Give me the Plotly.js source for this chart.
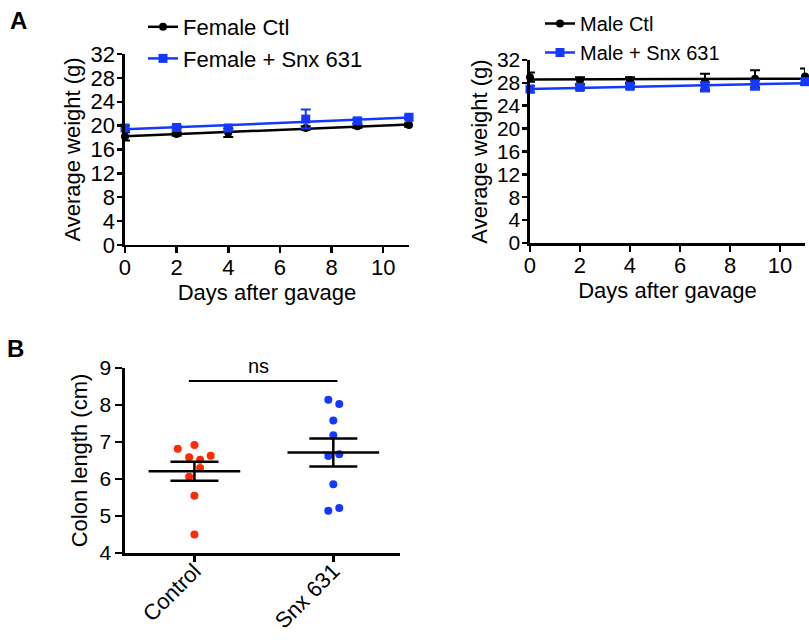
<!DOCTYPE html>
<html>
<head>
<meta charset="utf-8">
<script src="https://cdn.plot.ly/plotly-3.0.1.min.js"></script>
<style>html,body{margin:0;padding:0;background:#fff;}#chart{width:809px;height:640px;}</style>
</head>
<body>
<div id="chart"></div>
<script>
// ---------- DATA ----------
const days = [0, 2, 4, 7, 9, 11];
const femaleCtl = [18.2, 18.6, 18.8, 19.6, 19.9, 20.1];
const femaleCtlErr = [0.7, 0.3, 0.7, 0.3, 0.3, 0.3];
const femaleSnx = [19.6, 19.7, 19.6, 21.1, 20.8, 21.4];
const femaleSnxErr = [0.4, 0.3, 0.5, 1.6, 0.4, 0.3];
const maleCtl = [29.0, 28.4, 28.5, 28.2, 28.7, 29.1];
const maleCtlErr = [0.8, 0.6, 0.5, 1.4, 1.5, 1.4];
const maleSnx = [26.9, 27.2, 27.4, 27.3, 27.6, 28.2];
const maleSnxErr = [0.6, 0.4, 0.4, 0.8, 0.8, 0.5];

const groups = ['Control', 'Snx 631'];
const colonControl = [6.82, 6.92, 6.59, 6.52, 6.63, 6.30, 6.06, 5.55, 4.50];
const colonSnx = [8.14, 8.03, 7.58, 7.18, 6.62, 6.67, 5.86, 5.14, 5.22];
const sigLabel = 'ns';
const sigLevel = 8.65;

// ---------- LAYOUT HELPERS (positions / styles) ----------
const jitterControl = [-0.12, 0, -0.038, 0.041, 0.117, 0.041, -0.038, 0, 0];
const jitterSnx = [-0.036, 0.043, 0, 0, -0.036, 0.043, 0, -0.036, 0.043];
const meanHalf = 0.33;

const BLACK = '#000000';
const BLUE = '#1438ff';
const RED = '#ff2a00';
const FONT = 'Liberation Sans, Arial, Helvetica, sans-serif';

function fit(xs, ys) {
  const n = xs.length;
  const mx = xs.reduce((a, b) => a + b, 0) / n;
  const my = ys.reduce((a, b) => a + b, 0) / n;
  let sxy = 0, sxx = 0;
  for (let i = 0; i < n; i++) { sxy += (xs[i] - mx) * (ys[i] - my); sxx += (xs[i] - mx) ** 2; }
  const b = sxy / sxx, a = my - b * mx;
  const x0 = Math.min(...xs), x1 = Math.max(...xs);
  return { x: [x0, x1], y: [a + b * x0, a + b * x1] };
}
function meanSem(v) {
  const n = v.length;
  const m = v.reduce((a, b) => a + b, 0) / n;
  const sd = Math.sqrt(v.reduce((a, b) => a + (b - m) ** 2, 0) / (n - 1));
  return { m: m, sem: sd / Math.sqrt(n) };
}

const traces = [];
function addSeries(y, err, color, symbol, size, name, xa, ya, legend) {
  const f = fit(days, y);
  traces.push({ x: f.x, y: f.y, xaxis: xa, yaxis: ya, mode: 'lines', line: { color: color, width: 2.5 }, showlegend: false, hoverinfo: 'skip' });
  traces.push({ x: days, y: y, xaxis: xa, yaxis: ya, mode: 'markers', cliponaxis: false,
    marker: { color: color, symbol: symbol, size: size },
    error_y: { type: 'data', array: err, visible: true, color: color, thickness: 2, width: 5 },
    showlegend: false });
  traces.push({ x: [null], y: [null], xaxis: xa, yaxis: ya, mode: 'lines+markers', name: name, legend: legend,
    line: { color: color, width: 2.5 }, marker: { color: color, symbol: symbol, size: size } });
}
addSeries(femaleCtl, femaleCtlErr, BLACK, 'circle', 8, 'Female Ctl', 'x', 'y', 'legend');
addSeries(femaleSnx, femaleSnxErr, BLUE, 'square', 9, 'Female + Snx 631', 'x', 'y', 'legend');
addSeries(maleCtl, maleCtlErr, BLACK, 'circle', 8, 'Male Ctl', 'x2', 'y2', 'legend2');
addSeries(maleSnx, maleSnxErr, BLUE, 'square', 9, 'Male + Snx 631', 'x2', 'y2', 'legend2');

// Panel B
const colonSets = [colonControl, colonSnx];
const jit = [jitterControl, jitterSnx];
const dotColors = [RED, BLUE];
colonSets.forEach((vals, gi) => {
  traces.push({ x: vals.map((v, i) => gi + jit[gi][i]), y: vals, xaxis: 'x3', yaxis: 'y3', mode: 'markers',
    marker: { color: dotColors[gi], size: 8 }, showlegend: false, cliponaxis: false });
  const s = meanSem(vals);
  traces.push({ x: [gi - meanHalf, gi + meanHalf], y: [s.m, s.m], xaxis: 'x3', yaxis: 'y3', mode: 'lines',
    line: { color: BLACK, width: 2.5 }, showlegend: false });
  traces.push({ x: [gi], y: [s.m], xaxis: 'x3', yaxis: 'y3', mode: 'markers', marker: { size: 1, color: 'rgba(0,0,0,0)' },
    error_y: { type: 'data', array: [s.sem], visible: true, color: BLACK, thickness: 2.5, width: 24 }, showlegend: false });
});

function axisBase(extra) {
  return Object.assign({
    showline: true, linecolor: BLACK, linewidth: 2.5, ticks: 'outside', ticklen: 6, tickwidth: 2.5, tickcolor: BLACK,
    showgrid: false, zeroline: false, tickfont: { family: FONT, size: 22, color: BLACK }, automargin: false, fixedrange: true
  }, extra);
}
const titleFont = { family: FONT, size: 22, color: BLACK };

const layout = {
  width: 809, height: 640,
  margin: { l: 0, r: 0, t: 0, b: 0 },
  paper_bgcolor: '#fff', plot_bgcolor: 'rgba(0,0,0,0)',
  font: { family: FONT, color: BLACK },
  xaxis: axisBase({ domain: [0.1545, 0.5056], range: [0, 11], dtick: 2, tick0: 0, anchor: 'y', ticklabelstandoff: -5,
    title: { text: 'Days after gavage', font: titleFont, standoff: 6 } }),
  yaxis: axisBase({ domain: [0.6172, 0.9156], range: [0, 32], dtick: 4, tick0: 0, anchor: 'x', ticklen: 5, ticklabelstandoff: -2,
    tickfont: { family: FONT, size: 22, color: BLACK }, title: { text: 'Average weight (g)', font: titleFont, standoff: 4 } }),
  xaxis2: axisBase({ domain: [0.6551, 0.9951], range: [0, 11], dtick: 2, tick0: 0, anchor: 'y2', ticklabelstandoff: -5,
    title: { text: 'Days after gavage', font: titleFont, standoff: 6 } }),
  yaxis2: axisBase({ domain: [0.6203, 0.9063], range: [0, 32], dtick: 4, tick0: 0, anchor: 'x2', ticklen: 5, ticklabelstandoff: -2,
    tickfont: { family: FONT, size: 21, color: BLACK }, title: { text: 'Average weight (g)', font: titleFont, standoff: 3 } }),
  xaxis3: axisBase({ domain: [0.1545, 0.4944], range: [-0.5, 1.48], tickmode: 'array', tickvals: [0, 1], ticktext: groups,
    tickangle: -45, anchor: 'y3', ticklabelstandoff: -12 }),
  yaxis3: axisBase({ domain: [0.1359, 0.425], range: [4, 9], dtick: 1, tick0: 4, anchor: 'x3', ticklen: 7,
    tickfont: { family: FONT, size: 21, color: BLACK },
    title: { text: 'Colon length (cm)', font: titleFont, standoff: 6 } }),
  legend: { x: 143 / 809, y: 1 - 6 / 640, xanchor: 'left', yanchor: 'top', bgcolor: 'rgba(0,0,0,0)',
    font: { family: FONT, size: 22, color: BLACK }, tracegroupgap: 0 },
  legend2: { x: 540 / 809, y: 1 - 4 / 640, xanchor: 'left', yanchor: 'top', bgcolor: 'rgba(0,0,0,0)',
    font: { family: FONT, size: 20, color: BLACK }, tracegroupgap: 0 },
  shapes: [
    { type: 'line', xref: 'x3', yref: 'y3', x0: -0.04, x1: 1.03, y0: sigLevel, y1: sigLevel, line: { color: BLACK, width: 2 } }
  ],
  annotations: [
    { text: '<b>A</b>', xref: 'paper', yref: 'paper', x: 18 / 809, y: 1 - 20 / 640, xanchor: 'center', yanchor: 'middle', showarrow: false, font: { family: FONT, size: 24, color: BLACK } },
    { text: '<b>B</b>', xref: 'paper', yref: 'paper', x: 16 / 809, y: 1 - 348 / 640, xanchor: 'center', yanchor: 'middle', showarrow: false, font: { family: FONT, size: 24, color: BLACK } },
    { text: sigLabel, xref: 'x3', yref: 'y3', x: 0.46, y: sigLevel, yanchor: 'bottom', yshift: 2, showarrow: false, font: { family: FONT, size: 20, color: BLACK } }
  ]
};

Plotly.newPlot('chart', traces, layout, { displayModeBar: false, staticPlot: true });
</script>
</body>
</html>
